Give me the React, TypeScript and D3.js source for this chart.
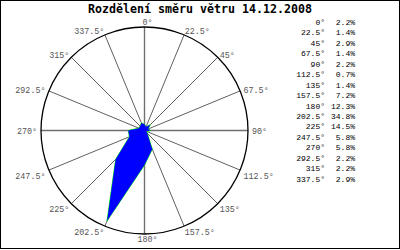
import React from "react";
import * as d3 from "d3";

const directions = [0, 22.5, 45, 67.5, 90, 112.5, 135, 157.5, 180, 202.5, 225, 247.5, 270, 292.5, 315, 337.5];
const percents = [2.2, 1.4, 2.9, 1.4, 2.2, 0.7, 1.4, 7.2, 12.3, 34.8, 14.5, 5.8, 5.8, 2.2, 2.2, 2.9];
const directionLabels = directions.map((d) => `${d}°`);
const percentLabels = percents.map((p) => `${p.toFixed(1)}%`);
const title = "Rozdělení směru větru 14.12.2008";
const scaleMax = 36.8;

const W = 400;
const H = 250;
const cx = 144.5;
const cy = 130.5;
const R = 103.5;
const mono = "'Liberation Mono', 'DejaVu Sans Mono', monospace";
const monoBold = "'DejaVu Sans Mono', 'Liberation Mono', monospace";

export default function App() {
  const rScale = d3.scaleLinear().domain([0, scaleMax]).range([0, R]);
  const angle = (d: number) => (d * Math.PI) / 180;

  const radial = d3
    .lineRadial<number>()
    .angle((_, i) => angle(directions[i]))
    .radius((v) => rScale(v))
    .curve(d3.curveLinearClosed);
  const path = radial(percents) || "";

  const legendY = d3.scaleLinear().domain([0, directions.length - 1]).range([22, 179]);

  return (
    <svg
      width={W}
      height={H}
      style={{ position: "absolute", left: 0, top: 0, background: "#fff" }}
      xmlns="http://www.w3.org/2000/svg"
    >
      <rect x={0} y={0} width={W} height={H} fill="#fff" />
      <line x1={0.5} y1={0} x2={0.5} y2={249} stroke="#000" />
      <line x1={399.5} y1={0} x2={399.5} y2={249} stroke="#000" />
      <line x1={0} y1={0.5} x2={400} y2={0.5} stroke="#000" />
      <line x1={0} y1={248.5} x2={400} y2={248.5} stroke="#000" />

      <text
        x={200}
        y={12.5}
        textAnchor="middle"
        textLength={224}
        lengthAdjust="spacingAndGlyphs"
        style={{ fontFamily: monoBold, fontWeight: 700, fontSize: "11.5px" }}
        fill="#000"
      >
        {title}
      </text>

      <g transform={`translate(${cx},${cy})`}>
        {directions.map((d, i) => {
          const a = angle(d);
          const x = R * Math.sin(a);
          const y = -R * Math.cos(a);
          const main = d % 90 === 0;
          return (
            <line
              key={i}
              x1={0}
              y1={0}
              x2={x}
              y2={y}
              stroke={main ? "#707070" : "#606060"}
              strokeWidth={main ? 1.4 : 1}
            />
          );
        })}
        <circle r={R} fill="none" stroke="#000" strokeWidth={1.3} />
        <path d={path} fill="none" stroke="#00ff00" strokeWidth={1} />
        <path d={path} fill="#0000ff" stroke="none" />
        {directions.map((d, i) => {
          const a = angle(d);
          const s = Math.sin(a);
          const c = Math.cos(a);
          const x = R * s;
          const y = -R * c;
          const anchor = s > 0.1 ? "start" : s < -0.1 ? "end" : "middle";
          const dx = s > 0.1 ? 4 * s * s : s < -0.1 ? -4 * s * s : 3;
          const dy = c > 0.05 ? -5 * c * c : c < -0.05 ? 5.5 : 0.7;
          return (
            <text
              key={i}
              x={x + dx}
              y={y + dy}
              dy="0.35em"
              textAnchor={anchor}
              style={{ fontFamily: mono, fontSize: "8.4px" }}
              fill="#555"
            >
              {directionLabels[i]}
            </text>
          );
        })}
      </g>

      {directions.map((d, i) => (
        <g key={i}>
          <text
            x={325}
            y={legendY(i)}
            dy="0.35em"
            textAnchor="end"
            style={{ fontFamily: mono, fontSize: "8px" }}
            fill="#000"
          >
            {directionLabels[i]}
          </text>
          <text
            x={355}
            y={legendY(i)}
            dy="0.35em"
            textAnchor="end"
            style={{ fontFamily: mono, fontSize: "8px" }}
            fill="#000"
          >
            {percentLabels[i]}
          </text>
        </g>
      ))}
    </svg>
  );
}
